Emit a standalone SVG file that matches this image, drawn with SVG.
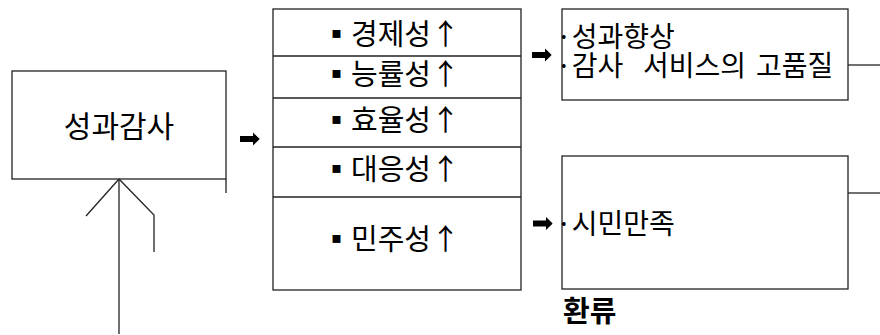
<svg xmlns="http://www.w3.org/2000/svg" width="880" height="335" viewBox="0 0 880 335">
<style>
.box{fill:#fff;stroke:#222;stroke-width:1.3}
.ln{fill:none;stroke:#222;stroke-width:1.3}
.t{font-family:"Noto Sans CJK KR","Noto Sans",sans-serif;font-size:29px;fill:#000}
.r{font-size:28px}
.m{text-anchor:middle}
.b{font-weight:bold;font-size:29px}
</style>
<defs>
<path id="arr" d="M0,-3 H13 V-6.5 L19,-0.7 Q20,0 19,0.7 L13,6.5 V3 H0 Z" fill="#000"/>
</defs>
<rect width="880" height="335" fill="#fff"/>
<g id="audit">
<rect class="box" x="12" y="71" width="214" height="108"/>
<line class="ln" x1="226" y1="179" x2="226" y2="193"/>
<text class="t m" x="119" y="136.5" style="font-size:30px">성과감사</text>
</g>
<g id="criteria">
<rect class="box" x="273" y="9" width="248" height="281"/>
<line class="ln" x1="273" y1="56" x2="521" y2="56"/>
<line class="ln" x1="273" y1="98" x2="521" y2="98"/>
<line class="ln" x1="273" y1="147" x2="521" y2="147"/>
<line class="ln" x1="273" y1="197" x2="521" y2="197"/>
<text class="t" y="44.5"><tspan x="322">▪</tspan><tspan x="351">경제성</tspan><tspan x="431">↑</tspan></text>
<text class="t" y="85"><tspan x="322">▪</tspan><tspan x="351">능률성</tspan><tspan x="431">↑</tspan></text>
<text class="t" y="130.5"><tspan x="322">▪</tspan><tspan x="351">효율성</tspan><tspan x="431">↑</tspan></text>
<text class="t" y="179.5"><tspan x="322">▪</tspan><tspan x="351">대응성</tspan><tspan x="431">↑</tspan></text>
<text class="t" y="249.5"><tspan x="322">▪</tspan><tspan x="351">민주성</tspan><tspan x="431">↑</tspan></text>
</g>
<g id="outcome1">
<rect class="box" x="562" y="9" width="286" height="91"/>
<text class="t r" x="556" y="47">·성과향상</text>
<text class="t r" y="76"><tspan x="556">·감사</tspan><tspan x="643">서비스의</tspan><tspan x="756">고품질</tspan></text>
</g>
<g id="outcome2">
<rect class="box" x="562" y="156" width="286" height="133"/>
<text class="t r" x="556" y="234">·시민만족</text>
</g>
<g id="feedback">
<text class="t b" x="563" y="322">환류</text>
</g>
<g id="connectors">
<use href="#arr" x="240" y="139"/>
<use href="#arr" x="532" y="55"/>
<use href="#arr" x="533" y="223.5"/>
<line class="ln" x1="848" y1="65" x2="880" y2="65"/>
<line class="ln" x1="848" y1="193" x2="880" y2="193"/>
<line class="ln" x1="119" y1="179" x2="119" y2="334"/>
<line class="ln" x1="119" y1="179" x2="86" y2="216"/>
<polyline class="ln" points="119,179 154,215 154,252"/>
</g>
</svg>
